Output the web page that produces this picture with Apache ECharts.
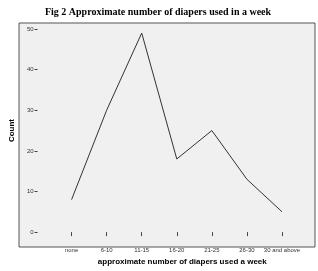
<!DOCTYPE html>
<html>
<head>
<meta charset="utf-8">
<script src="https://cdn.jsdelivr.net/npm/echarts@6/dist/echarts.min.js"></script>
<style>
    html, body { margin: 0; padding: 0; background: #fff; }
    #chart { width: 318px; height: 271px; }
</style>
</head>
<body>
<div id="chart"></div>
<script>
// 类别（每周尿布数量）
const categories = ["none", "6-10", "11-15", "16-20", "21-25", "26-30", "30 and above"];
// 人数
const counts = [8, 30, 49, 18, 25, 13, 5];
// y轴刻度
const yMin = 0;
const yMax = 50;
const yStep = 10;

const chart = echarts.init(document.getElementById("chart"));

const labelFont = "Liberation Sans, Arial, sans-serif";

chart.setOption({
    animation: false,
    title: {
        text: "Fig 2 Approximate number of diapers used in a week",
        left: 153,
        textAlign: "center",
        top: 2,
        textStyle: {
            fontFamily: "Liberation Serif, Times New Roman, serif",
            fontWeight: "bold",
            fontSize: 10,
            color: "#000",
        },
    },
    // grid 0 只画外框和灰色背景，grid 1 放数据
    grid: [
        {
            left: 19,
            right: 3,
            top: 23,
            bottom: 24,
            show: true,
            backgroundColor: "#f0f0f0",
            borderColor: "#555",
            borderWidth: 1,
        },
        {
            left: 53,
            right: 36,
            top: 29,
            bottom: 34,
        },
    ],
    xAxis: [
        { gridIndex: 0, type: "value", show: false, min: 0, max: 1 },
        {
            gridIndex: 1,
            type: "category",
            data: categories,
            boundaryGap: false,
            offset: 10,
            name: "approximate number of diapers used a week",
            nameLocation: "middle",
            nameGap: 12,
            nameTextStyle: {
                fontFamily: labelFont,
                fontWeight: "bold",
                fontSize: 8,
                color: "#000",
                padding: [0, 0, 0, 11],
            },
            axisLine: { show: false },
            axisTick: { show: true, alignWithLabel: true, length: 4, lineStyle: { color: "#444" } },
            axisLabel: {
                interval: 0,
                margin: 5,
                fontFamily: labelFont,
                fontSize: 6,
                color: "#333",
            },
            splitLine: { show: false },
        },
    ],
    yAxis: [
        { gridIndex: 0, type: "value", show: false, min: 0, max: 1 },
        {
            gridIndex: 1,
            type: "value",
            min: yMin,
            max: yMax,
            interval: yStep,
            offset: 34,
            name: "Count",
            nameLocation: "middle",
            nameGap: 15,
            nameTextStyle: {
                fontFamily: labelFont,
                fontWeight: "bold",
                fontSize: 8,
                color: "#000",
            },
            axisLine: { show: false },
            axisTick: { show: true, length: 3, lineStyle: { color: "#444" } },
            axisLabel: {
                margin: 4,
                fontFamily: labelFont,
                fontSize: 6,
                color: "#333",
            },
            splitLine: { show: false },
        },
    ],
    series: [
        {
            type: "line",
            xAxisIndex: 1,
            yAxisIndex: 1,
            data: counts,
            symbol: "none",
            lineStyle: { color: "#333", width: 1 },
        },
    ],
});
</script>
</body>
</html>
